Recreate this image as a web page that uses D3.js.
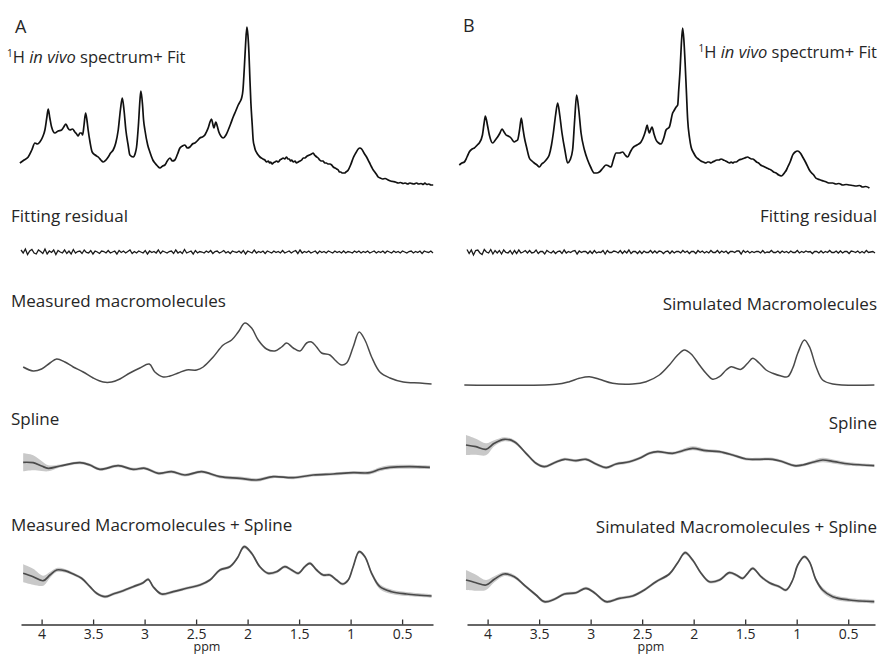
<!DOCTYPE html>
<html>
<head>
<meta charset="utf-8">
<script src="https://cdn.jsdelivr.net/npm/d3@7"></script>
<style>
  body { margin: 0; background: #fff; }
  svg text { font-family: "Open Sans", "Noto Sans", sans-serif; fill: #262626; }
</style>
</head>
<body>
<svg id="chart"></svg>
<script>
// DATA (ppm, intensity in a.u.)

// 1H in vivo spectrum + fit
const inVivoA = [[4.211,27],[4.170,30],[4.130,33],[4.095,40],[4.065,47],[4.040,46],[4.017,48],[3.990,53],[3.968,60],[3.950,72],[3.936,81],[3.920,72],[3.903,63],[3.871,57],[3.840,59],[3.806,60],[3.785,63],[3.764,66],[3.745,62],[3.725,60],[3.700,61],[3.677,58],[3.660,56],[3.645,54],[3.628,57],[3.612,57],[3.602,55],[3.588,65],[3.573,77],[3.560,70],[3.548,60],[3.530,48],[3.509,38],[3.480,35],[3.450,33],[3.425,30],[3.402,28],[3.375,30],[3.353,33],[3.330,37],[3.305,40],[3.280,47],[3.256,60],[3.235,80],[3.217,92],[3.200,80],[3.182,60],[3.160,45],[3.143,35],[3.111,33],[3.090,37],[3.078,43],[3.060,65],[3.045,90],[3.036,99],[3.020,85],[3.010,70],[2.997,60],[2.970,45],[2.949,38],[2.920,30],[2.900,27],[2.875,24],[2.851,22],[2.825,24],[2.803,25],[2.780,29],[2.754,32],[2.730,29],[2.706,30],[2.680,36],[2.657,42],[2.632,44],[2.609,45],[2.585,42],[2.560,43],[2.535,46],[2.512,47],[2.490,49],[2.463,52],[2.440,53],[2.415,55],[2.400,58],[2.383,62],[2.365,68],[2.350,71],[2.338,66],[2.327,62],[2.318,65],[2.308,68],[2.295,64],[2.279,58],[2.260,54],[2.237,52],[2.210,55],[2.188,60],[2.165,66],[2.140,73],[2.115,79],[2.091,85],[2.075,88],[2.058,92],[2.045,100],[2.033,120],[2.020,145],[2.007,163],[1.997,155],[1.987,137],[1.978,112],[1.968,87],[1.955,65],[1.946,50],[1.935,44],[1.925,40],[1.910,37],[1.897,35],[1.880,33],[1.865,32],[1.850,31],[1.832,30],[1.815,28],[1.800,29],[1.785,27],[1.775,28],[1.762,26],[1.751,27],[1.735,28],[1.720,29],[1.703,28],[1.686,30],[1.670,31],[1.655,32],[1.640,31],[1.621,33],[1.608,31],[1.595,31],[1.583,29],[1.573,30],[1.555,28],[1.540,29],[1.525,27],[1.509,28],[1.492,29],[1.475,30],[1.460,32],[1.444,32],[1.422,34],[1.400,35],[1.380,36],[1.363,37],[1.350,35],[1.340,34],[1.328,33],[1.315,32],[1.300,30],[1.285,29],[1.268,29],[1.250,27],[1.235,27],[1.220,26],[1.200,26],[1.184,25],[1.168,23],[1.150,22],[1.135,21],[1.120,20],[1.108,18],[1.095,18],[1.083,17],[1.072,17],[1.058,17],[1.045,18],[1.023,20],[1.000,25],[0.975,32],[0.950,37],[0.926,41],[0.910,42],[0.893,41],[0.870,37],[0.845,33],[0.820,28],[0.796,23],[0.780,20],[0.765,18],[0.745,15],[0.732,13],[0.712,12],[0.690,11],[0.665,11.5],[0.635,10],[0.612,9],[0.590,8.5],[0.565,8],[0.538,7],[0.515,7.5],[0.490,6.5],[0.470,7],[0.445,6],[0.425,7],[0.408,6.5],[0.385,6],[0.360,7],[0.340,6],[0.315,6.5],[0.295,5.5],[0.279,7],[0.260,5.5],[0.240,6],[0.220,5],[0.198,5]];

const inVivoB = [[4.275,25],[4.250,27],[4.226,28],[4.200,33],[4.178,38],[4.150,41],[4.129,42],[4.100,45],[4.081,47],[4.050,55],[4.035,66],[4.022,74],[4.000,64],[3.983,55],[3.951,47],[3.925,50],[3.903,53],[3.880,57],[3.860,61],[3.840,58],[3.821,55],[3.800,54],[3.773,52],[3.741,48],[3.725,49],[3.709,50],[3.690,60],[3.673,72],[3.658,62],[3.644,53],[3.620,42],[3.595,32],[3.570,29],[3.547,27],[3.520,25],[3.498,23],[3.475,26],[3.450,28],[3.425,31],[3.402,35],[3.380,45],[3.362,57],[3.340,75],[3.320,87],[3.300,75],[3.278,57],[3.250,40],[3.223,27],[3.200,30],[3.175,40],[3.155,70],[3.136,95],[3.115,80],[3.093,57],[3.060,40],[3.029,30],[3.000,23],[2.964,17],[2.940,17],[2.916,18],[2.880,22],[2.850,25],[2.825,24],[2.802,23],[2.780,30],[2.753,37],[2.720,37],[2.689,38],[2.665,35],[2.641,33],[2.615,38],[2.592,42],[2.550,45],[2.511,48],[2.480,55],[2.465,60],[2.452,65],[2.440,60],[2.430,57],[2.418,60],[2.404,63],[2.385,56],[2.365,50],[2.340,47],[2.317,46],[2.290,52],[2.268,60],[2.236,63],[2.204,77],[2.187,80],[2.170,83],[2.155,85],[2.145,100],[2.132,120],[2.120,145],[2.107,162],[2.095,150],[2.083,127],[2.070,97],[2.058,70],[2.040,52],[2.025,43],[2.000,37],[1.977,33],[1.955,31],[1.930,29],[1.905,28],[1.880,27],[1.865,28],[1.850,28],[1.832,27],[1.816,28],[1.795,29],[1.775,30],[1.755,30],[1.734,31],[1.712,30],[1.690,29],[1.672,28],[1.653,27],[1.636,28],[1.620,27],[1.604,28],[1.588,28],[1.560,30],[1.530,31],[1.505,32],[1.476,33],[1.458,32],[1.440,31],[1.425,31],[1.411,30],[1.390,28],[1.370,27],[1.350,25],[1.330,24],[1.310,23],[1.290,22],[1.270,21],[1.249,20],[1.225,18],[1.200,17],[1.175,15],[1.151,14],[1.135,15],[1.120,17],[1.100,20],[1.087,23],[1.060,29],[1.039,35],[1.015,38],[0.990,39],[0.965,37],[0.942,33],[0.910,27],[0.877,20],[0.855,17],[0.835,15],[0.815,12],[0.796,11],[0.770,10],[0.740,9],[0.712,8],[0.683,7],[0.650,7],[0.620,6],[0.590,6.5],[0.553,5],[0.520,5.5],[0.490,5],[0.455,4.5],[0.423,4],[0.390,4.5],[0.360,3],[0.330,3.5],[0.294,2]];

// fitting residual, evenly spaced over the plotted ppm span
const residualA = [2,-1,3,-2.5,1,2.5,-1,-2,2,0.5,-1.5,3,-2,1,-0.5,2,-2.5,1.5,0,-1,
    2,-1.5,1,-2,2.5,-1,0.5,1,-1.5,2,-0.5,-1,1.5,-2,1,0,-1.5,1,0.5,-1,
    1.5,-1,0,1,-2,1.5,-0.5,1,-1,0.5,2,-1.5,0.5,-1,1,0,-1,1.5,-2,1,
    -0.5,0.5,-1,2,-1.5,1,0,-1,0.5,1,-1.5,2,-1,0.5,-1.5,2.5,-1,0,1,-2,
    1.5,-1,0.5,0,-1,1,-0.5,1.5,-1.5,0.5,1,-1,0,1.5,-1,0.5,-1.5,1,0,-0.5,
    1,-1,1.5,-2,1,0,-1,2,-1,0.5,-0.5,1,-1.5,1,0,-1,1,-0.5,0.5,-1,
    1.5,-1,0,1,-1,0.5,1.5,-1.5,2,-1,0.5,-0.5,1,-1,0,1,-1.5,1,-0.5,0.5,
    -1,1,0,-1,1,-0.5,0.5,-1,1,-1,0.5,0,-1,1,-0.5,1,-1,0.5,-0.5,1,
    -1,0,1,-1,0.5,-0.5,1,-1,1,0,-1,1,-0.5,0.5,-1,1,0,-1,0.5,1,
    -1,0.5,-0.5,1,-1.5,1,0,-0.5,1,-1];
const residualB = [2.5,-1.5,2,-3,1.5,2,-1,-2.5,2.5,0,-1,2.5,-2,1.5,-1,1.5,-2,2,-0.5,-1,
    1.5,-2,1.5,-1.5,2,-1,0,1.5,-1,1.5,-1,-0.5,2,-1.5,0.5,0.5,-2,1.5,0,-1,
    1,-1.5,0.5,1,-1.5,2,-1,0.5,-0.5,1,1.5,-2,1,-0.5,0.5,0.5,-1.5,1,-1.5,1.5,
    -1,0,-0.5,1.5,-2,1.5,-0.5,-0.5,1,0.5,-1,1.5,-1.5,1,-1,2,-1.5,0.5,0.5,-1.5,
    1,-1.5,1,-0.5,-0.5,1.5,-1,1,-1,1,0.5,-1.5,0.5,1,-1.5,1,-1,0.5,0.5,-1,
    1.5,-0.5,1,-1.5,0.5,0.5,-1.5,1.5,-0.5,1,-1,0.5,-1,1.5,-0.5,-0.5,1.5,-1,1,-0.5,
    1,-1.5,0.5,0.5,-0.5,1,1,-2,1.5,-0.5,1,-1,0.5,-0.5,0.5,0.5,-1,1.5,-1,0,
    -0.5,1.5,-0.5,-0.5,1,-1,1,-0.5,0.5,-1,1,-0.5,-0.5,1.5,-1,0.5,-0.5,1,0,0.5,
    -1.5,0.5,0.5,-1,1,-1,0.5,-0.5,1.5,-0.5,-0.5,1,-1,1,-1,0.5,0.5,-1.5,1,0.5,
    -0.5,1,-1,0.5,-1,1.5,-0.5,0,0.5,-1];

// macromolecule baselines
const mmMeasured = [[4.179,23],[4.082,19],[4.000,21],[3.919,27],[3.854,31],[3.774,28],[3.693,23],[3.596,18],[3.499,12],[3.402,8],[3.320,8],[3.240,11],[3.143,17],[3.046,22],[2.955,26],[2.900,18],[2.819,13],[2.754,14],[2.674,17],[2.592,20],[2.495,20],[2.431,23],[2.334,33],[2.237,45],[2.155,50],[2.091,58],[2.026,67],[1.961,62],[1.897,50],[1.816,41],[1.735,39],[1.670,43],[1.621,47],[1.557,42],[1.492,39],[1.427,47],[1.379,48],[1.330,43],[1.282,37],[1.201,35],[1.152,30],[1.087,25],[1.039,27],[0.975,43],[0.917,58],[0.861,50],[0.796,33],[0.716,18],[0.618,12],[0.489,8],[0.327,7],[0.214,6]];
const mmSimulated = [[4.226,5],[3.336,5.7],[3.207,8.3],[3.110,11.7],[3.012,13.3],[2.916,10.7],[2.786,6.7],[2.592,6],[2.462,8.3],[2.333,15],[2.236,25],[2.155,35],[2.090,40],[2.025,36],[1.944,25],[1.880,16.7],[1.816,10.7],[1.750,13.3],[1.685,20],[1.637,23.3],[1.588,21.7],[1.540,20.7],[1.476,26.7],[1.427,31.7],[1.362,26.7],[1.297,20],[1.233,16.7],[1.151,14],[1.087,13.3],[1.039,21.7],[0.990,36.7],[0.925,50],[0.877,43.3],[0.812,23.3],[0.748,10],[0.650,6],[0.246,5]];

// spline baselines: [ppm, value, sd]
const splineA = [[4.179,-2.3,9],[4.082,-2.7,7.5],[4.000,-6,5],[3.936,-8.3,3],[3.822,-6,1.5],[3.628,-2.7,1.5],[3.531,-5,1.5],[3.434,-9.3,1.5],[3.256,-5.7,1.5],[3.111,-9.3,1.5],[2.997,-8.3,1.5],[2.868,-13.3,1.5],[2.738,-11.7,1.5],[2.609,-15,1.5],[2.447,-11.7,1.5],[2.269,-16.7,1.5],[2.075,-18.3,1.8],[1.913,-20,1.8],[1.751,-16.7,1.5],[1.557,-17.7,1.5],[1.363,-15,1.5],[1.169,-14,1.5],[0.975,-12.7,1.5],[0.813,-12.7,1.8],[0.716,-9.3,2],[0.618,-7.3,2],[0.424,-6.7,2],[0.230,-7.3,1.8]];
const splineB = [[4.210,15,10],[4.113,13.3,8],[4.016,10.7,6],[3.935,16.7,3],[3.838,20.7,2],[3.741,18.3,1.8],[3.627,6.7,1.5],[3.530,-3.3,1.5],[3.450,-6.7,1.5],[3.352,-2.7,1.5],[3.255,0.7,1.5],[3.142,-0.7,1.5],[3.045,0.7,1.5],[2.948,-4,1.5],[2.850,-7.7,1.5],[2.753,-4,1.5],[2.624,-1.7,1.5],[2.527,1.7,1.5],[2.430,6.7,1.5],[2.350,8.3,1.5],[2.204,6.7,1.5],[2.107,9.3,1.8],[2.010,11.7,2],[1.880,9.3,1.8],[1.750,8.3,1.5],[1.621,5,1.5],[1.491,1,1.5],[1.362,0.7,1.5],[1.233,0.7,1.5],[1.136,-1.7,1.5],[1.022,-5.7,1.5],[0.942,-5,1.5],[0.845,-2.3,1.8],[0.748,0,2.2],[0.636,-1.7,2],[0.490,-4,1.8],[0.247,-5.7,1.5]];

// macromolecules + spline: [ppm, value, sd]
const mmSplineA = [[4.179,36.7,9],[4.082,33.3,8],[3.984,29.3,5],[3.919,35,3],[3.854,40,2],[3.774,39.3,1.8],[3.693,36,1.5],[3.612,31.7,1.5],[3.531,23.3,1.5],[3.466,16.7,1.5],[3.385,13.3,1.5],[3.305,16,1.5],[3.208,19.3,1.5],[3.111,23.3,1.5],[3.014,27.3,1.5],[2.965,30.7,1.5],[2.917,23.3,1.5],[2.835,16,1.5],[2.722,18.3,1.5],[2.592,21.7,1.5],[2.463,25,1.5],[2.366,30,1.5],[2.269,40,1.5],[2.172,43.3,1.5],[2.101,51.7,1.5],[2.033,63.3,1.8],[1.961,56.7,1.8],[1.881,43.3,1.5],[1.800,36.7,1.5],[1.718,38.3,1.5],[1.638,43.3,1.5],[1.573,40,1.5],[1.509,36.7,1.5],[1.444,43.3,1.5],[1.395,46.7,1.5],[1.330,40,1.5],[1.266,35,1.5],[1.201,35,1.5],[1.136,30,1.5],[1.078,26,1.5],[1.023,30,1.5],[0.975,43.3,1.5],[0.917,58.3,1.5],[0.861,53.3,1.5],[0.796,36.7,2],[0.716,23.3,2.5],[0.602,18.3,2.2],[0.456,16,2],[0.214,14,1.8]];
const mmSplineB = [[4.210,30,10],[4.113,27.3,8],[4.016,25,5],[3.935,30.7,3],[3.838,36,2],[3.741,33.3,1.8],[3.627,23.3,1.5],[3.530,15,1.5],[3.450,8.3,1.5],[3.352,10.7,1.5],[3.255,16,1.5],[3.142,17.3,1.5],[3.045,21.7,1.5],[2.964,17.3,1.5],[2.850,8.3,1.5],[2.721,11.7,1.5],[2.592,14,1.5],[2.479,20,1.5],[2.365,28.3,1.5],[2.236,36,1.5],[2.155,47.3,1.5],[2.083,57.3,1.8],[2.010,50,1.8],[1.928,36.7,1.5],[1.848,28.3,1.5],[1.750,30,1.5],[1.653,37.3,1.5],[1.588,35,1.5],[1.524,31.7,1.5],[1.476,36.7,1.5],[1.427,41.7,1.5],[1.346,33.3,1.5],[1.265,27.3,1.5],[1.168,23.3,1.5],[1.103,20,1.5],[1.039,30,1.5],[0.990,45,1.5],[0.925,53.3,1.5],[0.877,48.3,1.5],[0.812,30,2],[0.748,20,2.5],[0.650,13.3,2.2],[0.490,10,2],[0.247,8.3,1.8]];

const ppmTicks = [4, 3.5, 3, 2.5, 2, 1.5, 1, 0.5];
const rowLabelsA = ["Fitting residual", "Measured macromolecules", "Spline", "Measured Macromolecules + Spline"];
const rowLabelsB = ["Fitting residual", "Simulated Macromolecules", "Spline", "Simulated Macromolecules + Spline"];

// LAYOUT

const width = 878;
const height = 656;

const svg = d3.select('#chart')
    .attr('width', width)
    .attr('height', height);

const panels = [
    {
        letter: 'A', letterX: 15, letterY: 33,
        x: d3.scaleLinear().domain([4.2, 0.2]).range([21, 433]),
        anchor: 'start', labelX: 11, titleX: 7, titleY: 62.5,
        labelY: [222, 307, 425, 531],
        inVivo: inVivoA, residual: residualA, mm: mmMeasured,
        spline: splineA, mmSpline: mmSplineA, labels: rowLabelsA
    },
    {
        letter: 'B', letterX: 463, letterY: 32,
        x: d3.scaleLinear().domain([4.2, 0.24]).range([467, 875]),
        anchor: 'end', labelX: 877, titleX: 877, titleY: 57.5,
        labelY: [222, 310, 429, 533],
        inVivo: inVivoB, residual: residualB, mm: mmSimulated,
        spline: splineB, mmSpline: mmSplineB, labels: rowLabelsB
    }
];

// y scales, one per row
const yInVivo = d3.scaleLinear().domain([0, 165]).range([190, 25]);
const yResid = d3.scaleLinear().domain([-6, 6]).range([258, 246]);
const yMM = d3.scaleLinear().domain([0, 70]).range([390, 320]);
const ySpline = d3.scaleLinear().domain([-20, 20]).range([480, 440]);
const yMMSpline = d3.scaleLinear().domain([0, 70]).range([610, 540]);
const axisY = 624.5;
const labelSize = '17px';

panels.forEach(function(p) {
    const g = svg.append('g');
    const x = p.x;

    // panel letter
    g.append('text')
        .attr('x', p.letterX).attr('y', p.letterY)
        .style('font-size', '18px')
        .text(p.letter);

    // title with superscript and italics
    const title = g.append('text')
        .attr('x', p.titleX).attr('y', p.titleY)
        .attr('text-anchor', p.anchor)
        .style('font-size', '16.5px');
    title.append('tspan').attr('dy', -6).style('font-size', '10px').text('1');
    title.append('tspan').attr('dy', 6).text('H ');
    title.append('tspan').style('font-style', 'italic').text('in vivo');
    title.append('tspan').text(' spectrum+ Fit');

    // row labels
    p.labels.forEach(function(lbl, i) {
        g.append('text')
            .attr('x', p.labelX).attr('y', p.labelY[i])
            .attr('text-anchor', p.anchor)
            .style('font-size', labelSize)
            .text(lbl);
    });

    // in vivo spectrum
    g.append('path')
        .datum(p.inVivo)
        .attr('d', d3.line().x(d => x(d[0])).y(d => yInVivo(d[1])).curve(d3.curveMonotoneX))
        .attr('fill', 'none')
        .attr('stroke', '#111')
        .attr('stroke-width', 1.7);

    // residual
    const idx2ppm = d3.scaleLinear().domain([0, p.residual.length - 1]).range(x.domain());
    g.append('path')
        .datum(p.residual)
        .attr('d', d3.line().x((d, i) => x(idx2ppm(i))).y(d => yResid(d)))
        .attr('fill', 'none')
        .attr('stroke', '#1a1a1a')
        .attr('stroke-width', 1.3);

    // macromolecules
    g.append('path')
        .datum(p.mm)
        .attr('d', d3.line().x(d => x(d[0])).y(d => yMM(d[1])).curve(d3.curveCatmullRom.alpha(0.5)))
        .attr('fill', 'none')
        .attr('stroke', '#4a4a4a')
        .attr('stroke-width', 1.5);

    // spline and mm+spline with uncertainty bands
    [[p.spline, ySpline], [p.mmSpline, yMMSpline]].forEach(function(pair) {
        const data = pair[0], y = pair[1];
        g.append('path')
            .datum(data)
            .attr('d', d3.area()
                .x(d => x(d[0]))
                .y0(d => y(d[1] - d[2]))
                .y1(d => y(d[1] + d[2]))
                .curve(d3.curveCatmullRom.alpha(0.5)))
            .attr('fill', '#c9c9c9')
            .attr('stroke', 'none');
        g.append('path')
            .datum(data)
            .attr('d', d3.line().x(d => x(d[0])).y(d => y(d[1])).curve(d3.curveCatmullRom.alpha(0.5)))
            .attr('fill', 'none')
            .attr('stroke', '#4a4a4a')
            .attr('stroke-width', 1.7);
    });

    // ppm axis
    const axis = g.append('g')
        .attr('transform', `translate(0,${axisY})`)
        .call(d3.axisBottom(x)
            .tickValues(ppmTicks)
            .tickFormat(d => String(d))
            .tickSizeInner(-5)
            .tickSizeOuter(0)
            .tickPadding(5));
    axis.select('.domain').attr('stroke', '#333').attr('stroke-width', 1.3);
    axis.selectAll('.tick line').attr('stroke', '#333').attr('stroke-width', 1.3);
    axis.selectAll('.tick text')
        .style('font-family', '"Open Sans", sans-serif')
        .style('font-size', '14px')
        .attr('fill', '#262626');

    const r = x.range();
    g.append('text')
        .attr('x', (r[0] + r[1]) / 2 - 20)
        .attr('y', 651)
        .attr('text-anchor', 'middle')
        .style('font-size', '12.5px')
        .text('ppm');
});
</script>
</body>
</html>
